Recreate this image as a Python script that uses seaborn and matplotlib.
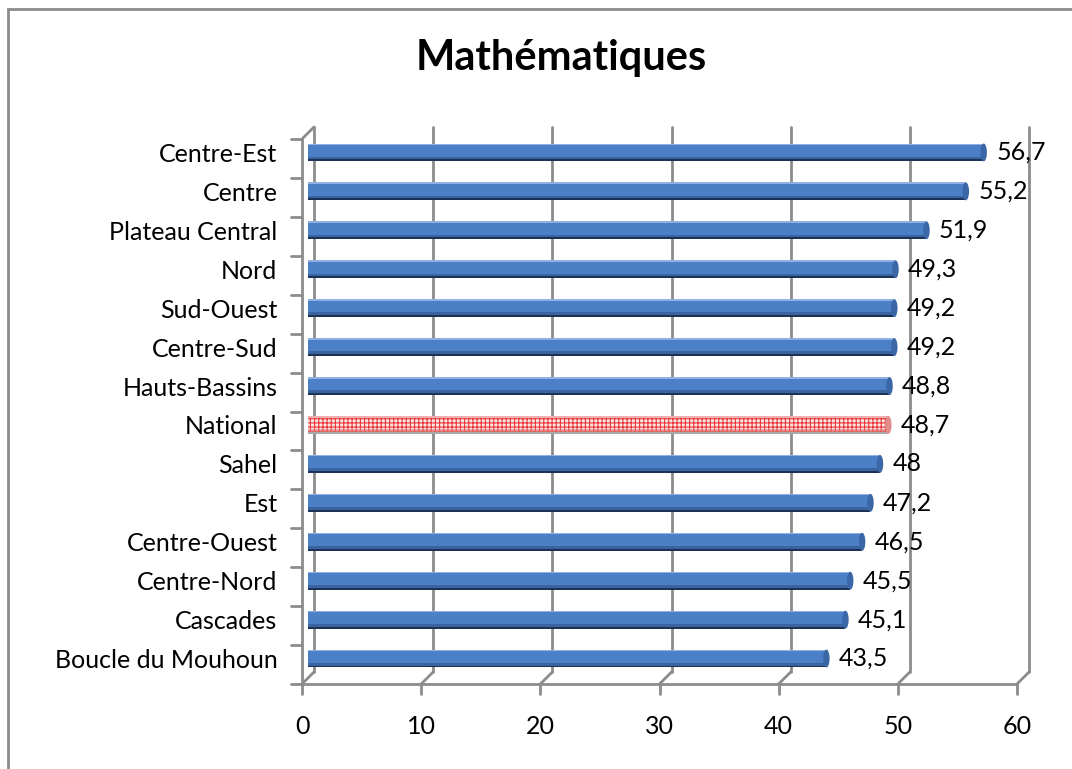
import numpy as np
import pandas as pd
import matplotlib
matplotlib.use("Agg")
import matplotlib.pyplot as plt
import matplotlib.transforms as mtrans
from matplotlib.patches import Rectangle
from matplotlib.path import Path
import seaborn as sns

# data
regions = ["Centre-Est", "Centre", "Plateau Central", "Nord", "Sud-Ouest",
           "Centre-Sud", "Hauts-Bassins", "National", "Sahel", "Est",
           "Centre-Ouest", "Centre-Nord", "Cascades", "Boucle du Mouhoun"]
scores = [56.7, 55.2, 51.9, 49.3, 49.2, 49.2, 48.8, 48.7, 48.0, 47.2,
          46.5, 45.5, 45.1, 43.5]
x_ticks = [0, 10, 20, 30, 40, 50, 60]

df = pd.DataFrame({"region": regions, "score": scores})

sns.set_theme(style="white")
plt.rcParams["font.family"] = ["Lato", "DejaVu Sans"]
plt.rcParams["text.color"] = "black"
plt.rcParams["xtick.color"] = "black"
plt.rcParams["ytick.color"] = "black"
plt.rcParams["hatch.linewidth"] = 0.8

W, H = 1072, 769
fig = plt.figure(figsize=(W / 100, H / 100), dpi=100)
# axes = middle depth plane of the pseudo-3D Excel chart
ax = fig.add_axes([308 / W, 1 - 678 / H, 715 / W, 545 / H])

grey = "#8c8c8c"
bar_w = 0.46
nat = regions.index("National")

sns.barplot(data=df, y="region", x="score", orient="h", ax=ax,
            color="#4b7fc6", width=bar_w, saturation=1, edgecolor="none")

# National bar: red hatched
p = ax.patches[nat]
p.set_facecolor("#fde6e6")
p.set_hatch("++++")
p.set_edgecolor("#e8383a")
p.set_linewidth(0)

# cylinder shading on the bars
ypos = np.arange(len(regions))
mid = ["#2f5385"] * len(regions)
dark = ["#1b3256"] * len(regions)
light = ["#8fb0e0"] * len(regions)
cap = ["#3b67a6"] * len(regions)
mid[nat], dark[nat], light[nat], cap[nat] = "#e07a7a", "#a9a9a9", "#f4b0b0", "#e58d8d"
ax.barh(ypos + bar_w / 2 - 0.08, scores, height=0.08, color=mid,
        edgecolor="none", zorder=3, alpha=0.6)
ax.barh(ypos + bar_w / 2 - 0.025, scores, height=0.05, color=dark,
        edgecolor="none", zorder=3)
ax.barh(ypos - bar_w / 2 + 0.02, scores, height=0.04, color=light,
        edgecolor="none", zorder=3)

# elliptical end cap
t = np.linspace(0, 2 * np.pi, 60)
ell = Path(np.column_stack([0.36 * np.cos(t), np.sin(t)]), closed=True)
ax.scatter(scores, ypos, marker=ell, s=(bar_w * 38.9 * 0.72) ** 2,
           color=cap, zorder=4, edgecolor="none")

# value labels with comma decimal
labels = [f"{v:g}".replace(".", ",") for v in scores]
ax.bar_label(ax.containers[0], labels=labels, padding=9, fontsize=18,
             color="black")

ax.set_xlim(0, 60)
ax.set_ylim(len(regions) - 0.5, -0.5)
ax.set_xticks(x_ticks)
ax.set_xlabel("")
ax.set_ylabel("")
for s in ax.spines.values():
    s.set_visible(False)
ax.tick_params(axis="x", length=0, pad=27, labelsize=18)
ax.tick_params(axis="y", length=0, pad=22, labelsize=18)

d = 6 / 100
back = ax.transData + mtrans.ScaledTranslation(d, d, fig.dpi_scale_trans)
front = ax.transData + mtrans.ScaledTranslation(-d, -d, fig.dpi_scale_trans)
for lab in ax.get_xticklabels():
    lab.set_transform(lab.get_transform() +
                      mtrans.ScaledTranslation(-d, 0, fig.dpi_scale_trans))

y0, y1 = len(regions) - 0.5, -0.5
lw = 2.0
# back wall gridlines
for tk in x_ticks:
    ax.plot([tk, tk], [y0, y1], color=grey, lw=lw, transform=back,
            zorder=0.5, clip_on=False)
# front axes
ax.plot([0, 60], [y0, y0], color=grey, lw=lw, transform=front,
        clip_on=False, zorder=5)
ax.plot([0, 0], [y0, y1], color=grey, lw=lw, transform=front,
        clip_on=False, zorder=5)
# depth connectors and tick marks
for tk in x_ticks:
    p1 = front.transform((tk, y0))
    p2 = back.transform((tk, y0))
    fig.add_artist(plt.Line2D([p1[0] / W, p2[0] / W],
                              [p1[1] / H, p2[1] / H], color=grey, lw=lw))
    fig.add_artist(plt.Line2D([p1[0] / W, p1[0] / W],
                              [p1[1] / H, (p1[1] - 10) / H], color=grey,
                              lw=lw))
p1 = front.transform((0, y1))
p2 = back.transform((0, y1))
fig.add_artist(plt.Line2D([p1[0] / W, p2[0] / W], [p1[1] / H, p2[1] / H],
                          color=grey, lw=lw))
for k in np.arange(-0.5, len(regions), 1.0):
    pk = front.transform((0, k))
    fig.add_artist(plt.Line2D([(pk[0] - 11) / W, pk[0] / W],
                              [pk[1] / H, pk[1] / H], color=grey, lw=lw))

fig.text(561 / W, 1 - 58 / H, "Mathématiques", ha="center", va="center",
         fontsize=30, fontweight="bold", color="black")

# chart area border
fig.add_artist(Rectangle((8 / W, -0.05), 1.1, 1 - 9 / H + 0.05,
                         transform=fig.transFigure, fill=False,
                         edgecolor=grey, lw=2))

fig.savefig("out.png", dpi=100)
